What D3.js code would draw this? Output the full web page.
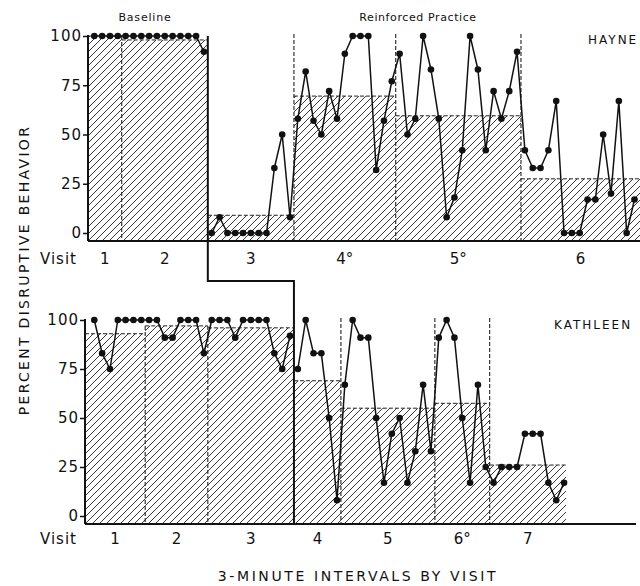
<!DOCTYPE html>
<html>
<head>
<meta charset="utf-8">
<script src="https://cdnjs.cloudflare.com/ajax/libs/d3/7.8.5/d3.min.js"></script>
<style>
  body { margin: 0; background: #fff; }
  svg { display: block; font-family: "DejaVu Sans", sans-serif; }
</style>
</head>
<body>
<svg id="chart"></svg>
<script>
// hayne -- one array per visit, percent disruptive for each 3-minute interval
const hayneVisits = ["1", "2", "3", "4°", "5°", "6"];
const hayneMeans = [100, 98, 9, 69.5, 59.5, 27.5];
const hayneIntervals = [
  [100, 100, 100, 100],
  [100, 100, 100, 100, 100, 100, 100, 100, 100, 100, 92],
  [0, 8, 0, 0, 0, 0, 0, 0, 33, 50, 8],
  [58, 82, 57, 50, 72, 58, 91, 100, 100, 100, 32, 57, 77],
  [91, 50, 58, 100, 83, 58, 8, 18, 42, 100, 83, 42, 72, 58, 72, 92],
  [42, 33, 33, 42, 67, 0, 0, 0, 17, 17, 50, 20, 67, 0, 17]
];

// kathleen
const kathleenVisits = ["1", "2", "3", "4", "5", "6°", "7"];
const kathleenMeans = [93, 97, 96, 69, 55, 57.5, 26];
const kathleenIntervals = [
  [100, 83, 75, 100, 100, 100, 100],
  [100, 100, 91, 91, 100, 100, 100, 83],
  [100, 100, 100, 91, 100, 100, 100, 100, 83, 75, 92],
  [75, 100, 83, 83, 50, 8],
  [67, 100, 91, 91, 50, 17, 42, 50, 17, 33, 67, 33],
  [91, 100, 91, 50, 17, 67, 25],
  [17, 25, 25, 25, 42, 42, 42, 17, 8, 17]
];

const yTicks = [0, 25, 50, 75, 100];

var svgWidth = 640, svgHeight = 586;
var svg = d3.select("#chart")
    .attr("width", svgWidth)
    .attr("height", svgHeight);

// hatching for the visit means
svg.append("defs").append("pattern")
    .attr("id", "hatch")
    .attr("patternUnits", "userSpaceOnUse")
    .attr("width", 7)
    .attr("height", 7)
  .append("path")
    .attr("d", "M-1,1 l2,-2 M0,7 l7,-7 M6,8 l2,-2")
    .attr("stroke", "#222")
    .attr("stroke-width", 0.9);

// one interval scale shared by both panels
const x = d3.scaleLinear().domain([0, 69]).range([94.3, 634.5]);

function drawPanel(cfg) {
  const y = d3.scaleLinear().domain([0, 100]).range([cfg.y0, cfg.y100]);
  const axisY = y(0) + 8;
  const g = svg.append("g");

  // flatten intervals into index/value pairs, remember where each visit starts
  var points = [], starts = [], idx = 0;
  cfg.intervals.forEach((vals, v) => {
    starts.push(idx);
    vals.forEach(val => {
      points.push({i: idx, value: val, visit: v});
      idx++;
    });
  });
  starts.push(idx);

  const edge = (v) => v === 0 ? cfg.left : x(starts[v] - 0.5);
  const right = (v) => v === cfg.intervals.length - 1 && cfg.lastRight ? cfg.lastRight : x(starts[v + 1] - 0.5);

  // mean bars
  g.selectAll(".bar")
    .data(cfg.means)
    .enter().append("rect")
    .attr("x", (d, v) => edge(v))
    .attr("y", d => y(d))
    .attr("width", (d, v) => right(v) - edge(v))
    .attr("height", d => axisY - y(d))
    .attr("fill", "url(#hatch)");

  g.selectAll(".bartop")
    .data(cfg.means)
    .enter().append("line")
    .attr("x1", (d, v) => edge(v))
    .attr("x2", (d, v) => right(v))
    .attr("y1", d => y(d))
    .attr("y2", d => y(d))
    .attr("stroke", "#222")
    .attr("stroke-width", 1)
    .attr("stroke-dasharray", "4,2");

  // dashed separators between visits (phase change gets the solid step instead)
  for (var v = 1; v < cfg.intervals.length; v++) {
    if (v === cfg.baseline) continue;
    var top = v < cfg.baseline ? y(Math.max(cfg.means[v - 1], cfg.means[v])) : y(101);
    g.append("line")
      .attr("x1", edge(v)).attr("x2", edge(v))
      .attr("y1", top).attr("y2", axisY)
      .attr("stroke", "#222")
      .attr("stroke-width", 1.1)
      .attr("stroke-dasharray", "4,2");
  }

  // axes
  g.append("line")
    .attr("x1", cfg.left).attr("x2", cfg.axisRight)
    .attr("y1", axisY).attr("y2", axisY)
    .attr("stroke", "#111").attr("stroke-width", 2);
  g.append("line")
    .attr("x1", cfg.left).attr("x2", cfg.left)
    .attr("y1", y(100) - 1).attr("y2", axisY)
    .attr("stroke", "#111").attr("stroke-width", 2);

  var yAxis = g.append("g")
    .attr("transform", "translate(" + cfg.left + ",0)")
    .call(d3.axisLeft(y).tickValues(yTicks).tickSize(5).tickPadding(1));
  yAxis.select(".domain").remove();
  yAxis.selectAll("line").attr("stroke", "#111").attr("stroke-width", 1.5);
  yAxis.selectAll("text")
    .attr("fill", "#111")
    .attr("font-size", 15)
    .attr("letter-spacing", 1)
    .attr("font-family", "DejaVu Sans, sans-serif");

  // the data line, broken at the phase change
  var line = d3.line()
    .x(d => x(d.i))
    .y(d => y(d.value));
  var phases = [points.filter(p => p.visit < cfg.baseline), points.filter(p => p.visit >= cfg.baseline)];
  g.selectAll(".seg")
    .data(phases)
    .enter().append("path")
    .attr("d", line)
    .attr("fill", "none")
    .attr("stroke", "#111")
    .attr("stroke-width", 1.5)
    .attr("stroke-linejoin", "round");

  g.selectAll(".dot")
    .data(points)
    .enter().append("circle")
    .attr("cx", d => x(d.i))
    .attr("cy", d => y(d.value))
    .attr("r", 3.3)
    .attr("fill", "#111");

  // visit labels under the axis
  g.append("text")
    .attr("x", 40).attr("y", cfg.visitY)
    .attr("font-size", 15).attr("letter-spacing", 1)
    .attr("fill", "#111")
    .text("Visit");
  g.selectAll(".vlab")
    .data(cfg.visits)
    .enter().append("text")
    .attr("x", (d, v) => (edge(v) + right(v)) / 2)
    .attr("y", cfg.visitY)
    .attr("text-anchor", "middle")
    .attr("font-size", 15)
    .attr("fill", "#111")
    .text(d => d);

  g.append("text")
    .attr("x", cfg.nameX).attr("y", cfg.nameY)
    .attr("font-size", 12).attr("letter-spacing", 2)
    .attr("fill", "#111")
    .text(cfg.name);

  return {y: y, axisY: axisY, starts: starts};
}

var hayne = drawPanel({
  intervals: hayneIntervals, means: hayneMeans, visits: hayneVisits,
  baseline: 2, y0: 233, y100: 36, left: 88, axisRight: 640, lastRight: 640,
  visitY: 264, name: "HAYNE", nameX: 588, nameY: 44
});

var kathleen = drawPanel({
  intervals: kathleenIntervals, means: kathleenMeans, visits: kathleenVisits,
  baseline: 3, y0: 516, y100: 320, left: 85, axisRight: 636, lastRight: 566,
  visitY: 544, name: "KATHLEEN", nameX: 554, nameY: 329
});

// solid step between baseline and reinforced practice
var stepX1 = x(hayne.starts[2] - 0.5), stepX2 = x(kathleen.starts[3] - 0.5);
svg.append("path")
  .attr("d", "M" + stepX1 + "," + hayne.y(100) + "V281H" + stepX2 + "V" + kathleen.axisY)
  .attr("fill", "none")
  .attr("stroke", "#111")
  .attr("stroke-width", 2);

// phase titles
svg.append("text")
  .attr("x", 145).attr("y", 21)
  .attr("text-anchor", "middle")
  .attr("font-size", 11).attr("letter-spacing", 0.8)
  .attr("fill", "#111")
  .text("Baseline");
svg.append("text")
  .attr("x", 418).attr("y", 21)
  .attr("text-anchor", "middle")
  .attr("font-size", 11).attr("letter-spacing", 0.6)
  .attr("fill", "#111")
  .text("Reinforced Practice");

// axis titles
svg.append("text")
  .attr("transform", "translate(29,270) rotate(-90)")
  .attr("text-anchor", "middle")
  .attr("font-size", 14).attr("letter-spacing", 2.3)
  .attr("fill", "#111")
  .text("PERCENT DISRUPTIVE BEHAVIOR");
svg.append("text")
  .attr("x", 358).attr("y", 581)
  .attr("text-anchor", "middle")
  .attr("font-size", 14).attr("letter-spacing", 2.6)
  .attr("fill", "#111")
  .text("3-MINUTE INTERVALS BY VISIT");
</script>
</body>
</html>
